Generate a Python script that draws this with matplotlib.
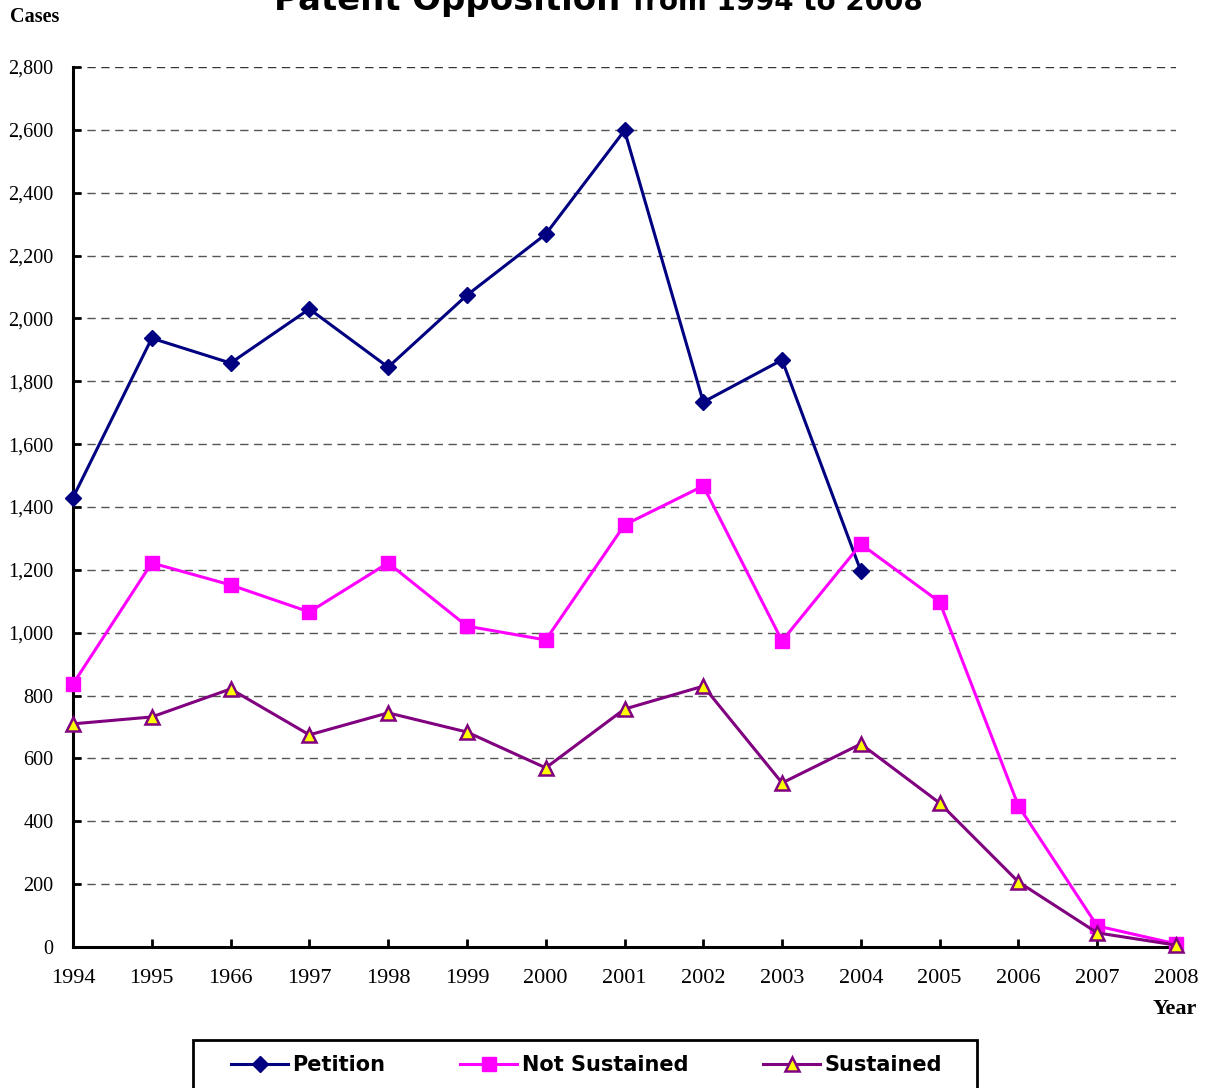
import numpy as np
import matplotlib.pyplot as plt
from matplotlib.patches import Rectangle

years = ['1994', '1995', '1966', '1997', '1998', '1999', '2000', '2001',
         '2002', '2003', '2004', '2005', '2006', '2007', '2008']
petition = [1430, 1937, 1858, 2030, 1845, 2074, 2268, 2598, 1734, 1868, 1196]
not_sustained = [837, 1222, 1152, 1066, 1222, 1021, 977, 1343, 1467, 974,
                 1282, 1098, 449, 67, 10]
sustained = [710, 732, 821, 675, 745, 684, 570, 757, 830, 522, 646, 458,
             207, 45, 6]

serif = ['Liberation Serif', 'DejaVu Serif']
sans = ['DejaVu Sans']

W, H = 1209, 1088
fig = plt.figure(figsize=(W / 100, H / 100), dpi=100)
ax = fig.add_axes([73 / W, 1 - 947 / H, (1176 - 73) / W, (947 - 67) / H])

x = np.arange(len(years))
ax.plot(x[:len(petition)], petition, color='#000080', lw=2.2, marker='D',
        ms=8.5, mfc='#000080', mec='#000080', clip_on=False, zorder=3,
        label='Petition')
ax.plot(x, not_sustained, color='#ff00ff', lw=2.2, marker='s', ms=10,
        mfc='#ff00ff', mec='#ff00ff', clip_on=False, zorder=3,
        label='Not Sustained')
ax.plot(x, sustained, color='#800080', lw=2.2, marker='^', ms=10,
        mfc='#ffff00', mec='#800080', mew=1.8, clip_on=False, zorder=4,
        label='Sustained')

ax.set_xlim(0, 14)
ax.set_ylim(0, 2800)
ax.set_yticks(np.arange(0, 2801, 200))
ax.set_yticklabels(['{:,}'.format(v) for v in range(0, 2801, 200)],
                   family=serif, fontsize=14.5)
ax.set_xticks(x)
ax.set_xticklabels(years, family=serif, fontsize=16)
ax.tick_params(direction='in', length=6, width=2)
ax.tick_params(axis='x', pad=16)
ax.tick_params(axis='y', pad=14)

for v in range(200, 2801, 200):
    ax.axhline(v, color='#333333' if v == 2800 else '#555555', lw=1,
               ls=(0, (6, 4)), zorder=1)

for s in ['top', 'right']:
    ax.spines[s].set_visible(False)
for s in ['left', 'bottom']:
    ax.spines[s].set_linewidth(2.2)

fig.text(10 / W, 1 - 17 / H, 'Cases', family=serif, fontsize=14.5,
         fontweight='bold', va='center', ha='left')
fig.text(1197 / W, 1 - 1009 / H, 'Year', family=serif, fontsize=16,
         fontweight='bold', va='center', ha='right')

fig.text(274 / W, 1 - 10 / H, 'Patent Opposition', family=sans,
         fontsize=24.4, fontweight='bold', va='baseline', ha='left')
fig.text(633 / W, 1 - 10 / H, 'from 1994 to 2008', family=sans,
         fontsize=20, fontweight='bold', va='baseline', ha='left')

# legend box drawn separately, entries placed inside it
fig.patches.append(Rectangle((193 / W, 1 - 1100 / H), (977 - 193) / W,
                             (1100 - 1040) / H, transform=fig.transFigure,
                             fill=False, ec='black', lw=2))
fig.legend(loc='center left', bbox_to_anchor=(231 / W, 1 - 1065 / H),
           ncol=3, frameon=False,
           prop={'family': sans, 'size': 15, 'weight': 'bold'},
           handlelength=2.74, columnspacing=3.6, borderpad=0,
           handletextpad=0.2, borderaxespad=0)

fig.savefig('out.png', dpi=100)
